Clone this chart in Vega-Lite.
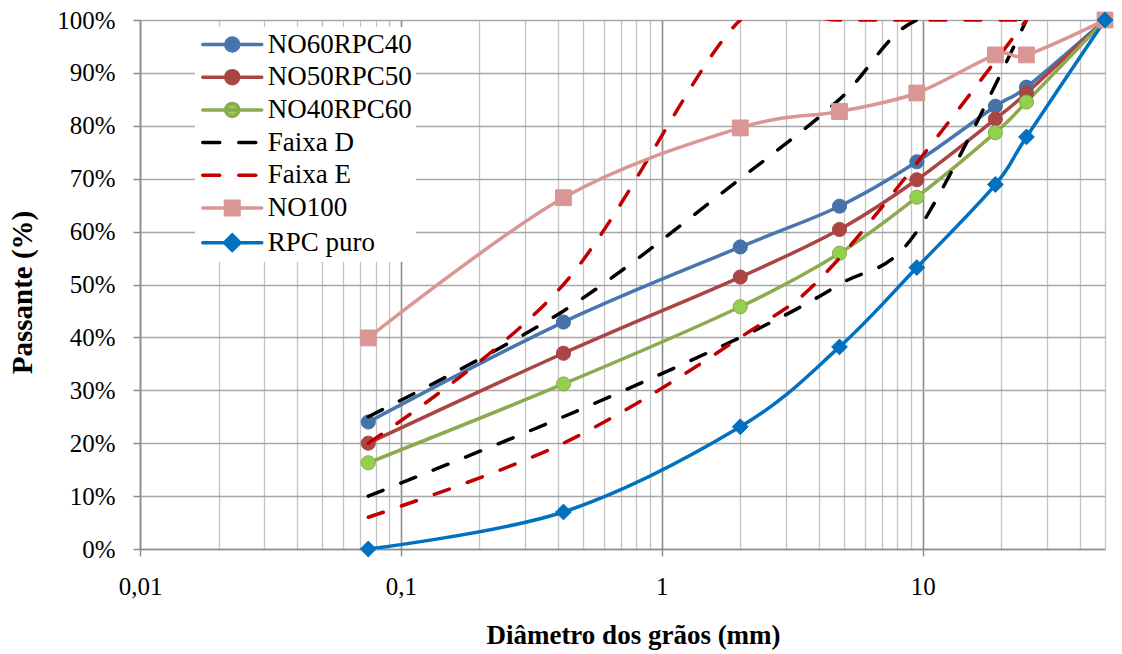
{
  "$schema": "https://vega.github.io/schema/vega-lite/v6.json",
  "width": 965,
  "height": 529,
  "autosize": {"type": "none"},
  "padding": {"left": 140, "top": 20, "right": 17, "bottom": 105},
  "background": "white",
  "config": {
    "view": {"stroke": null},
    "font": "Liberation Serif",
    "axis": {"labelColor": "black", "titleColor": "black", "labelFont": "Liberation Serif", "titleFont": "Liberation Serif"},
    "legend": {
      "orient": "none", "legendX": 55, "legendY": 7,
      "fillColor": "white", "padding": 4,
      "symbolStrokeWidth": 3.5, "symbolOffset": 19.75,
      "labelFont": "Liberation Serif", "labelFontSize": 27, "labelColor": "black", "labelOffset": 22,
      "rowPadding": 4.7
    }
  },
  "data": {
    "values": [
      {"serie": "NO60RPC40", "d": 0.075, "p": 24.0},
      {"serie": "NO60RPC40", "d": 0.42, "p": 42.9},
      {"serie": "NO60RPC40", "d": 2.0, "p": 57.1},
      {"serie": "NO60RPC40", "d": 4.8, "p": 64.8},
      {"serie": "NO60RPC40", "d": 9.5, "p": 73.2},
      {"serie": "NO60RPC40", "d": 19, "p": 83.7},
      {"serie": "NO60RPC40", "d": 25, "p": 87.3},
      {"serie": "NO60RPC40", "d": 50, "p": 100},
      {"serie": "NO50RPC50", "d": 0.075, "p": 20.0},
      {"serie": "NO50RPC50", "d": 0.42, "p": 37.0},
      {"serie": "NO50RPC50", "d": 2.0, "p": 51.4},
      {"serie": "NO50RPC50", "d": 4.8, "p": 60.4},
      {"serie": "NO50RPC50", "d": 9.5, "p": 69.8},
      {"serie": "NO50RPC50", "d": 19, "p": 81.3},
      {"serie": "NO50RPC50", "d": 25, "p": 86.2},
      {"serie": "NO50RPC50", "d": 50, "p": 100},
      {"serie": "NO40RPC60", "d": 0.075, "p": 16.3},
      {"serie": "NO40RPC60", "d": 0.42, "p": 31.2},
      {"serie": "NO40RPC60", "d": 2.0, "p": 45.8},
      {"serie": "NO40RPC60", "d": 4.8, "p": 55.9},
      {"serie": "NO40RPC60", "d": 9.5, "p": 66.5},
      {"serie": "NO40RPC60", "d": 19, "p": 78.7},
      {"serie": "NO40RPC60", "d": 25, "p": 84.5},
      {"serie": "NO40RPC60", "d": 50, "p": 100},
      {"serie": "Faixa D", "lim": "inf", "d": 0.075, "p": 10},
      {"serie": "Faixa D", "lim": "inf", "d": 0.42, "p": 25},
      {"serie": "Faixa D", "lim": "inf", "d": 2.0, "p": 40},
      {"serie": "Faixa D", "lim": "inf", "d": 4.8, "p": 50},
      {"serie": "Faixa D", "lim": "inf", "d": 9.5, "p": 60},
      {"serie": "Faixa D", "lim": "inf", "d": 25, "p": 100},
      {"serie": "Faixa D", "lim": "sup", "d": 0.075, "p": 25},
      {"serie": "Faixa D", "lim": "sup", "d": 0.42, "p": 45},
      {"serie": "Faixa D", "lim": "sup", "d": 2.0, "p": 70},
      {"serie": "Faixa D", "lim": "sup", "d": 4.8, "p": 85},
      {"serie": "Faixa D", "lim": "sup", "d": 9.5, "p": 100},
      {"serie": "Faixa D", "lim": "sup", "d": 25, "p": 100},
      {"serie": "Faixa E", "lim": "inf", "d": 0.075, "p": 6},
      {"serie": "Faixa E", "lim": "inf", "d": 0.42, "p": 20},
      {"serie": "Faixa E", "lim": "inf", "d": 2.0, "p": 40},
      {"serie": "Faixa E", "lim": "inf", "d": 4.8, "p": 55},
      {"serie": "Faixa E", "lim": "inf", "d": 25, "p": 100},
      {"serie": "Faixa E", "lim": "sup", "d": 0.075, "p": 20},
      {"serie": "Faixa E", "lim": "sup", "d": 0.42, "p": 50},
      {"serie": "Faixa E", "lim": "sup", "d": 2.0, "p": 100},
      {"serie": "Faixa E", "lim": "sup", "d": 4.8, "p": 100},
      {"serie": "Faixa E", "lim": "sup", "d": 25, "p": 100},
      {"serie": "NO100", "d": 0.075, "p": 39.9},
      {"serie": "NO100", "d": 0.42, "p": 66.4},
      {"serie": "NO100", "d": 2.0, "p": 79.6},
      {"serie": "NO100", "d": 4.8, "p": 82.7},
      {"serie": "NO100", "d": 9.5, "p": 86.2},
      {"serie": "NO100", "d": 19, "p": 93.4},
      {"serie": "NO100", "d": 25, "p": 93.4},
      {"serie": "NO100", "d": 50, "p": 100},
      {"serie": "RPC puro", "d": 0.075, "p": 0},
      {"serie": "RPC puro", "d": 0.42, "p": 7.0},
      {"serie": "RPC puro", "d": 2.0, "p": 23.1},
      {"serie": "RPC puro", "d": 4.8, "p": 38.2},
      {"serie": "RPC puro", "d": 9.5, "p": 53.2},
      {"serie": "RPC puro", "d": 19, "p": 68.9},
      {"serie": "RPC puro", "d": 25, "p": 77.9},
      {"serie": "RPC puro", "d": 50, "p": 100}
    ]
  },
  "encoding": {
    "x": {
      "field": "d",
      "type": "quantitative",
      "scale": {"type": "log", "domain": [0.01, 50], "nice": false},
      "axis": {
        "values": [0.01, 0.02, 0.03, 0.04, 0.05, 0.06, 0.07, 0.08, 0.09, 0.1, 0.2, 0.3, 0.4, 0.5, 0.6, 0.7, 0.8, 0.9, 1, 2, 3, 4, 5, 6, 7, 8, 9, 10, 20, 30, 40, 50],
        "labelExpr": "datum.value == 0.01 ? '0,01' : datum.value == 0.1 ? '0,1' : datum.value == 1 ? '1' : datum.value == 10 ? '10' : ''",
        "labelFontSize": 25,
        "labelPadding": 18,
        "labelFlush": false,
        "labelOverlap": false,
        "labelBound": false,
        "title": "Diâmetro dos grãos (mm)",
        "titleFontSize": 27,
        "titleFontWeight": "bold",
        "titlePadding": 23,
        "titleX": 493,
        "grid": true,
        "gridColor": {"condition": {"test": "datum.value == 0.01 || datum.value == 0.1 || datum.value == 1 || datum.value == 10", "value": "#8C8C8C"}, "value": "#C4C4C4"},
        "gridWidth": {"condition": {"test": "datum.value == 0.01 || datum.value == 0.1 || datum.value == 1 || datum.value == 10", "value": 1.6}, "value": 1.3},
        "tickColor": {"condition": {"test": "datum.value == 0.01 || datum.value == 0.1 || datum.value == 1 || datum.value == 10", "value": "#8C8C8C"}, "value": "rgba(0,0,0,0)"},
        "tickSize": 7,
        "tickWidth": 1.5,
        "domainColor": "#8C8C8C",
        "domainWidth": 1.5
      }
    },
    "y": {
      "field": "p",
      "type": "quantitative",
      "scale": {"domain": [0, 100], "nice": false},
      "axis": {
        "values": [0, 10, 20, 30, 40, 50, 60, 70, 80, 90, 100],
        "labelExpr": "datum.value + '%'",
        "labelFontSize": 25,
        "labelPadding": 18,
        "title": "Passante (%)",
        "titleFontSize": 29,
        "titleFontWeight": "bold",
        "titlePadding": 19,
        "titleY": 272,
        "grid": true,
        "gridColor": "#A8A8A8",
        "gridWidth": 1.3,
        "tickSize": 7,
        "tickColor": "#8C8C8C",
        "tickWidth": 1.5,
        "domainColor": "#8C8C8C",
        "domainWidth": 1.5
      }
    }
  },
  "layer": [
    {
      "transform": [{"filter": {"field": "serie", "oneOf": ["NO60RPC40", "NO50RPC50", "NO40RPC60"]}}],
      "mark": {"type": "line", "interpolate": "cardinal", "tension": 0, "strokeWidth": 3.5, "clip": true},
      "encoding": {
        "color": {
          "field": "serie", "type": "nominal",
          "scale": {"domain": ["NO60RPC40", "NO50RPC50", "NO40RPC60", "Faixa D", "Faixa E", "NO100", "RPC puro"], "range": ["#4776B0", "#A94643", "#8CAA4E", "#000000", "#C00000", "#D99694", "#0070C0"]},
          "legend": {
            "title": null,
            "encode": {"symbols": {"update": {
              "size": {"value": 400},
              "shape": {"signal": "indexof(['NO60RPC40','NO50RPC50','NO40RPC60'], datum.value) >= 0 ? 'M-2.95,0H2.95M0.65,0A0.65,0.65,0,1,1,-0.65,0A0.65,0.65,0,1,1,0.65,0Z' : datum.value == 'NO100' ? 'M-2.95,0H2.95M-0.68,-0.68H0.68V0.68H-0.68Z' : datum.value == 'RPC puro' ? 'M-2.95,0H2.95M-0.77,0L0,-0.77L0.77,0L0,0.77Z' : 'M-2.95,0H2.95'"},
              "fill": {"signal": "datum.value == 'NO40RPC60' ? '#92D050' : scale('color', datum.value)"},
              "stroke": {"signal": "scale('color', datum.value)"},
              "strokeDash": {"signal": "indexof(['Faixa D','Faixa E'], datum.value) >= 0 ? [17, 19] : null"},
              "strokeCap": {"value": "round"},
              "opacity": {"value": 1}
            }}}
          }
        }
      }
    },
    {
      "transform": [{"filter": {"field": "serie", "oneOf": ["NO60RPC40", "NO50RPC50", "NO40RPC60"]}}],
      "mark": {"type": "point", "shape": "circle", "filled": true, "opacity": 1, "size": 200, "strokeWidth": 1},
      "encoding": {
        "fill": {"field": "serie", "type": "nominal", "legend": null,
          "scale": {"domain": ["NO60RPC40", "NO50RPC50", "NO40RPC60", "Faixa D", "Faixa E", "NO100", "RPC puro"], "range": ["#4572A7", "#A94643", "#92D050", "#000000", "#C00000", "#D99694", "#0070C0"]}},
        "stroke": {"field": "serie", "type": "nominal", "legend": null,
          "scale": {"domain": ["NO60RPC40", "NO50RPC50", "NO40RPC60", "Faixa D", "Faixa E", "NO100", "RPC puro"], "range": ["#4572A7", "#A94643", "#8AA84C", "#000000", "#C00000", "#D99694", "#0070C0"]}}
      }
    },
    {
      "transform": [{"filter": {"field": "serie", "oneOf": ["Faixa D", "Faixa E"]}}],
      "mark": {"type": "line", "interpolate": "cardinal", "tension": 0, "strokeWidth": 3.5, "strokeDash": [16, 19], "strokeCap": "round", "clip": true},
      "encoding": {
        "detail": {"field": "lim", "type": "nominal"},
        "color": {
          "field": "serie", "type": "nominal",
          "scale": {"domain": ["NO60RPC40", "NO50RPC50", "NO40RPC60", "Faixa D", "Faixa E", "NO100", "RPC puro"], "range": ["#4776B0", "#A94643", "#8CAA4E", "#000000", "#C00000", "#D99694", "#0070C0"]},
          "legend": {
            "title": null,
            "encode": {"symbols": {"update": {
              "size": {"value": 400},
              "shape": {"signal": "indexof(['NO60RPC40','NO50RPC50','NO40RPC60'], datum.value) >= 0 ? 'M-2.95,0H2.95M0.65,0A0.65,0.65,0,1,1,-0.65,0A0.65,0.65,0,1,1,0.65,0Z' : datum.value == 'NO100' ? 'M-2.95,0H2.95M-0.68,-0.68H0.68V0.68H-0.68Z' : datum.value == 'RPC puro' ? 'M-2.95,0H2.95M-0.77,0L0,-0.77L0.77,0L0,0.77Z' : 'M-2.95,0H2.95'"},
              "fill": {"signal": "datum.value == 'NO40RPC60' ? '#92D050' : scale('color', datum.value)"},
              "stroke": {"signal": "scale('color', datum.value)"},
              "strokeDash": {"signal": "indexof(['Faixa D','Faixa E'], datum.value) >= 0 ? [17, 19] : null"},
              "strokeCap": {"value": "round"},
              "opacity": {"value": 1}
            }}}
          }
        }
      }
    },
    {
      "transform": [{"filter": {"field": "serie", "oneOf": ["NO100", "RPC puro"]}}],
      "mark": {"type": "line", "interpolate": "cardinal", "tension": 0, "strokeWidth": 3.5, "clip": true},
      "encoding": {
        "color": {
          "field": "serie", "type": "nominal",
          "scale": {"domain": ["NO60RPC40", "NO50RPC50", "NO40RPC60", "Faixa D", "Faixa E", "NO100", "RPC puro"], "range": ["#4776B0", "#A94643", "#8CAA4E", "#000000", "#C00000", "#D99694", "#0070C0"]},
          "legend": {
            "title": null,
            "encode": {"symbols": {"update": {
              "size": {"value": 400},
              "shape": {"signal": "indexof(['NO60RPC40','NO50RPC50','NO40RPC60'], datum.value) >= 0 ? 'M-2.95,0H2.95M0.65,0A0.65,0.65,0,1,1,-0.65,0A0.65,0.65,0,1,1,0.65,0Z' : datum.value == 'NO100' ? 'M-2.95,0H2.95M-0.68,-0.68H0.68V0.68H-0.68Z' : datum.value == 'RPC puro' ? 'M-2.95,0H2.95M-0.77,0L0,-0.77L0.77,0L0,0.77Z' : 'M-2.95,0H2.95'"},
              "fill": {"signal": "datum.value == 'NO40RPC60' ? '#92D050' : scale('color', datum.value)"},
              "stroke": {"signal": "scale('color', datum.value)"},
              "strokeDash": {"signal": "indexof(['Faixa D','Faixa E'], datum.value) >= 0 ? [17, 19] : null"},
              "strokeCap": {"value": "round"},
              "opacity": {"value": 1}
            }}}
          }
        }
      }
    },
    {
      "transform": [{"filter": {"field": "serie", "oneOf": ["NO100", "RPC puro"]}}],
      "mark": {"type": "point", "filled": true, "opacity": 1, "size": 250, "strokeWidth": 1},
      "encoding": {
        "shape": {"field": "serie", "type": "nominal", "legend": null,
          "scale": {"domain": ["NO100", "RPC puro"], "range": ["square", "diamond"]}},
        "fill": {"field": "serie", "type": "nominal", "legend": null,
          "scale": {"domain": ["NO60RPC40", "NO50RPC50", "NO40RPC60", "Faixa D", "Faixa E", "NO100", "RPC puro"], "range": ["#4572A7", "#A94643", "#92D050", "#000000", "#C00000", "#D99694", "#0070C0"]}},
        "stroke": {"field": "serie", "type": "nominal", "legend": null,
          "scale": {"domain": ["NO60RPC40", "NO50RPC50", "NO40RPC60", "Faixa D", "Faixa E", "NO100", "RPC puro"], "range": ["#4572A7", "#A94643", "#8AA84C", "#000000", "#C00000", "#D99694", "#0070C0"]}}
      }
    }
  ]
}
